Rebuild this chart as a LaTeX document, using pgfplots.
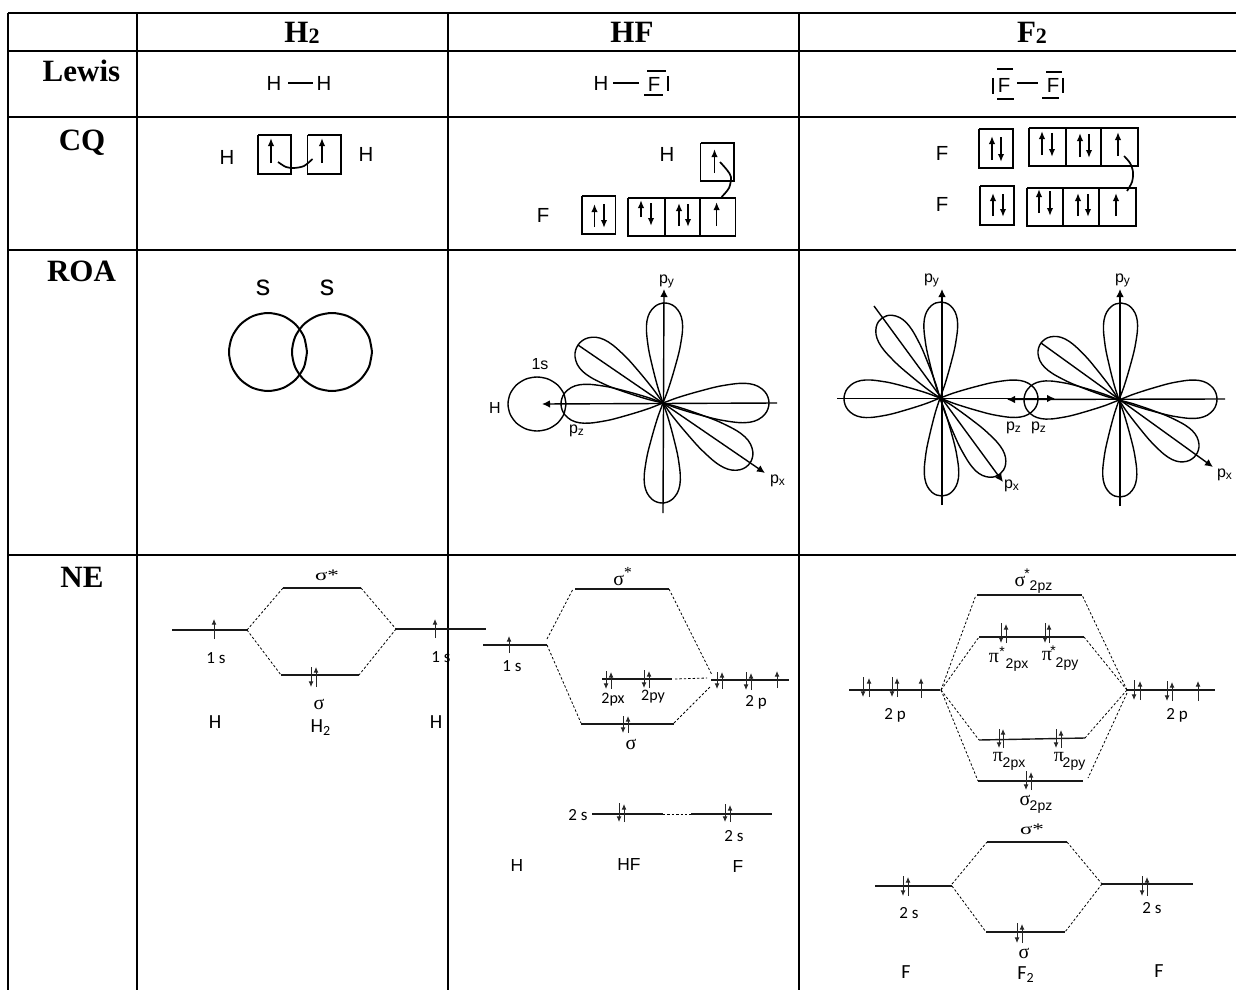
\documentclass[border=0pt]{standalone}
\usepackage{graphicx}
\usepackage{fontspec}
\usepackage{pgfplots}
\usepackage{pgfplotstable}
\pgfplotsset{compat=1.18}
\usetikzlibrary{arrows.meta}
\setmainfont{Liberation Serif}
\newfontfamily\arf{Liberation Sans}
\newfontfamily\caf{Carlito}
\pgfplotstableread{
u v
0 0
0.05 0.10
0.13 0.26
0.25 0.46
0.37 0.64
0.50 0.82
0.60 0.92
0.72 1.00
0.82 0.98
0.90 0.84
0.96 0.58
0.99 0.30
1.00 0
0.99 -0.30
0.96 -0.58
0.90 -0.84
0.82 -0.98
0.72 -1.00
0.60 -0.92
0.50 -0.82
0.37 -0.64
0.25 -0.46
0.13 -0.26
0.05 -0.10
0 0
}\lobetab
\pgfplotstableread{
c s
1 0
0.924 0.383
0.707 0.707
0.383 0.924
0 1
-0.383 0.924
-0.707 0.707
-0.924 0.383
-1 0
-0.924 -0.383
-0.707 -0.707
-0.383 -0.924
0 -1
0.383 -0.924
0.707 -0.707
0.924 -0.383
1 0
}\ringtab
\tikzset{
  tbl/.style={draw=black,line width=1pt},
  lev/.style={draw=black!90,line width=0.7pt},
  dsh/.style={draw=black,line width=0.4pt,dash pattern=on 1.2pt off 1pt},
  tinyarr/.style={draw=black!85,line width=0.42pt,-{Latex[length=2.8pt,width=2.4pt]}},
  bx/.style={draw=black,line width=0.85pt},
  carr/.style={draw=black,line width=0.8pt,-{Latex[length=4pt,width=3.2pt]}},
  orb/.style={draw=black,line width=0.7pt},
  oarr/.style={draw=black,line width=0.7pt,-{Latex[length=4pt,width=3.8pt]}},
  lt/.style={inner sep=0pt,font=\fontsize{10.2pt}{11pt}\arf},
  ls/.style={inner sep=0pt,font=\fontsize{8pt}{9pt}\arf},
  ct/.style={inner sep=0pt,font=\fontsize{8.5pt}{10pt}\caf},
  cH/.style={inner sep=0pt,font=\fontsize{10pt}{12pt}\caf},
  an/.style={inner sep=0pt,font=\fontsize{8.7pt}{10pt}\arf},
  sg/.style={inner sep=0pt,font=\fontsize{11pt}{12pt}},
  sb/.style={inner sep=0pt,font=\fontsize{7pt}{9pt}\arf},
  sc/.style={inner sep=0pt,font=\fontsize{8pt}{9pt}\caf},
  ht/.style={inner sep=0pt,anchor=base,font=\fontsize{15.5pt}{17pt}\bfseries},
}
\newcommand{\Seg}[5]{\addplot[#1] coordinates {(#2,#3) (#4,#5)};}
\newcommand{\Up}[3]{\addplot[tinyarr] coordinates {(#1,#2) (#1,#3)};}
\newcommand{\Car}[3]{\addplot[carr] coordinates {(#1,#2) (#1,#3)};}
\newcommand{\Bx}[4]{\addplot[bx] coordinates {(#1,#3) (#2,#3) (#2,#4) (#1,#4) (#1,#3)};}
\newcommand{\Lobe}[5]{\addplot[orb,smooth,tension=0.6] table[x expr={#1+(#3-#1)*\thisrow{u}-(#4-#2)*#5*\thisrow{v}},y expr={#2+(#4-#2)*\thisrow{u}+(#3-#1)*#5*\thisrow{v}}] {\lobetab};}
\newcommand{\Ring}[5][orb]{\addplot[#1,smooth] table[x expr={#2+#4*\thisrow{c}},y expr={#3+#5*\thisrow{s}}] {\ringtab};}
\newcommand{\hsub}{\fontsize{11pt}{11pt}\selectfont\raisebox{-0.5pt}{2}}
\begin{document}
\begin{tikzpicture}
\begin{axis}[
  scale only axis,width=618pt,height=495pt,
  xmin=0,xmax=1236,ymin=0,ymax=990,y dir=reverse,
  axis lines=none,clip=true]
\addplot[draw=none] coordinates {(0,0) (1236,990)};
% table
\Seg{tbl}{8}{13}{1236}{13}
\Seg{tbl}{8}{51}{1236}{51}
\Seg{tbl}{8}{117.5}{1236}{117.5}
\Seg{tbl}{8}{249.5}{1236}{249.5}
\Seg{tbl}{8}{555}{1236}{555}
\Seg{tbl}{8.3}{13}{8.3}{990}
\Seg{tbl}{137}{13}{137}{990}
\Seg{tbl}{448}{13}{448}{990}
\Seg{tbl}{799}{13}{799}{990}
\node[ht] at (axis cs:302,43) {H{\hsub}};
\node[ht] at (axis cs:632,43) {HF};
\node[ht] at (axis cs:1032,43) {F{\hsub}};
\node[ht] at (axis cs:81.5,82) {Lewis};
\node[ht] at (axis cs:82,150) {CQ};
\node[ht] at (axis cs:81.5,281) {ROA};
\node[ht] at (axis cs:82,587) {NE};
% Lewis
\node[lt] at (axis cs:274,83) {H};
\Seg{orb}{288}{83}{313}{83}
\node[lt] at (axis cs:324,83) {H};
\node[lt] at (axis cs:601,83) {H};
\Seg{orb}{613}{83}{639}{83}
\node[lt] at (axis cs:654,84) {F};
\Seg{orb}{647}{71}{666}{71}
\Seg{orb}{644}{95}{663}{95}
\Seg{orb}{668}{76}{668}{91}
\Seg{orb}{993}{78}{993}{94}
\node[lt] at (axis cs:1004,85) {F};
\Seg{orb}{997}{69}{1013}{69}
\Seg{orb}{997}{99}{1014}{99}
\Seg{orb}{1017}{83}{1038}{83}
\node[lt] at (axis cs:1053,85) {F};
\Seg{orb}{1046}{72}{1062}{72}
\Seg{orb}{1042}{98}{1059}{98}
\Seg{orb}{1063}{78}{1063}{93}
% CQ H2
\node[lt] at (axis cs:227,157) {H};
\node[lt] at (axis cs:366,154) {H};
\Bx{258}{291}{135}{174}
\Bx{307.5}{341}{135}{174}
\Car{271}{163}{138}
\Car{322}{163}{138}
\addplot[bx,smooth] coordinates {(278,162) (286,167) (294,168) (304,166) (312.5,159)};
% CQ HF
\node[lt] at (axis cs:667,154) {H};
\Bx{700.6}{734}{143}{181}
\Car{714.5}{173}{149}
\addplot[bx,smooth] coordinates {(720,162) (727,170) (731,177) (729,188) (721.6,197)};
\node[lt] at (axis cs:543,215) {F};
\Bx{582}{615.6}{196}{234}
\Car{594.5}{227}{204}
\Car{604}{204}{228}
\Bx{628}{735.5}{198}{236}
\Seg{bx}{665}{198}{665}{236}
\Seg{bx}{700}{198}{700}{236}
\Car{641}{217}{200}
\Car{651}{203}{226}
\Car{679}{226}{203}
\Car{688}{204}{227}
\Car{716.6}{226}{202}
% CQ F2
\node[lt] at (axis cs:942,153) {F};
\node[lt] at (axis cs:942,204) {F};
\Bx{979}{1013}{129}{168}
\Car{992}{160}{136}
\Car{1001}{137}{162}
\Bx{1029}{1138}{128}{166}
\Seg{bx}{1066}{128}{1066}{166}
\Seg{bx}{1101}{128}{1101}{166}
\Car{1042}{155}{131}
\Car{1052}{133}{157}
\Car{1080}{157}{133}
\Car{1089}{134}{158}
\Car{1118}{156}{132}
\addplot[bx,smooth] coordinates {(1124,156) (1130,163) (1133,172) (1132,182) (1127,191)};
\Bx{980}{1014}{186}{225}
\Car{993}{216}{193}
\Car{1003}{194}{217}
\Bx{1027}{1136}{188}{226}
\Seg{bx}{1063}{188}{1063}{226}
\Seg{bx}{1099}{188}{1099}{226}
\Car{1039}{213}{189}
\Car{1050}{191}{216}
\Car{1078}{216}{193}
\Car{1088}{194}{217}
\Car{1116}{216}{193}
% ROA H2
\node[inner sep=0pt,font=\fontsize{14.5pt}{16pt}\arf] at (axis cs:263,288) {s};
\node[inner sep=0pt,font=\fontsize{14.5pt}{16pt}\arf] at (axis cs:327,288) {s};
\Ring[orb,line width=1pt]{268}{352}{39}{39}
\Ring[orb,line width=1pt]{332}{352}{40}{39}
% ROA HF
\Seg{oarr}{663}{513}{664}{289}
\Seg{oarr}{777}{403}{542}{404}
\Seg{oarr}{578}{345}{765}{473}
\Lobe{663}{403}{665}{303}{0.18}
\Lobe{663}{403}{662}{503}{0.18}
\Lobe{663}{403}{769}{403}{0.185}
\Lobe{663}{403}{561}{404}{0.19}
\Lobe{663}{403}{578}{345}{0.19}
\Lobe{663}{403}{750}{463}{0.18}
\Ring{537}{404}{29}{27}
\node[ls] at (axis cs:667,281) {p\textsubscript{y}};
\node[ls] at (axis cs:540,364) {1s};
\node[ls] at (axis cs:495,408) {H};
\node[ls] at (axis cs:577,431) {p\textsubscript{z}};
\node[ls] at (axis cs:778,481) {p\textsubscript{x}};
% ROA F2 left
\Seg{oarr}{942}{505}{942}{289}
\Seg{oarr}{837}{398.5}{1055}{398.5}
\Seg{oarr}{874}{306}{1003}{482}
\Lobe{940}{398}{941}{302}{0.175}
\Lobe{940}{398}{942}{496}{0.175}
\Lobe{940}{398}{844}{399}{0.195}
\Lobe{940}{398}{1038}{399}{0.19}
\Lobe{940}{398}{882}{318}{0.175}
\Lobe{940}{398}{1000}{474}{0.18}
\node[ls] at (axis cs:932,280) {p\textsubscript{y}};
\node[ls] at (axis cs:1012,486) {p\textsubscript{x}};
\node[ls] at (axis cs:1014,428) {p\textsubscript{z}};
\node[ls] at (axis cs:1039,428) {p\textsubscript{z}};
% ROA F2 right
\Seg{oarr}{1120}{506}{1120}{289}
\Seg{oarr}{1225}{399}{1007}{399.5}
\Seg{oarr}{1041}{343}{1213}{467}
\Lobe{1119}{400}{1121}{303}{0.175}
\Lobe{1119}{400}{1120}{497}{0.175}
\Lobe{1119}{400}{1217}{399}{0.195}
\Lobe{1119}{400}{1024}{400}{0.2}
\Lobe{1119}{400}{1041}{343}{0.185}
\Lobe{1119}{400}{1196}{455}{0.19}
\node[ls] at (axis cs:1123,280) {p\textsubscript{y}};
\node[ls] at (axis cs:1225,475) {p\textsubscript{x}};
% NE H2
\Seg{lev}{172}{630}{247}{630}
\Seg{lev}{283}{588}{361}{588}
\Seg{lev}{396}{629}{486}{629}
\Seg{lev}{281}{675}{359}{675}
\Seg{dsh}{247}{630}{283}{588}
\Seg{dsh}{361}{588}{396}{629}
\Seg{dsh}{247}{630}{281}{675}
\Seg{dsh}{396}{629}{359}{675}
\Up{214}{639}{619}
\Up{435}{638}{619}
\Up{316}{687}{667}
\Up{311}{667}{687}
\node[ct] at (axis cs:216,658) {1 s};
\node[ct] at (axis cs:441,657) {1 s};
\node[sg] at (axis cs:327,575) {\scalebox{1.15}[0.8]{σ*}};
\node[sg] at (axis cs:319,704) {σ};
\node[cH] at (axis cs:215,722) {H};
\node[cH] at (axis cs:436,722) {H};
\node[cH] at (axis cs:321,728) {H\textsubscript{2}};
% NE HF
\Seg{lev}{483}{645}{547}{645}
\Seg{lev}{575}{589}{669}{589}
\Seg{lev}{581}{724}{674}{724}
\Seg{lev}{602}{679}{672}{679}
\Seg{lev}{711}{680}{789}{680}
\Seg{lev}{592}{814}{663}{814}
\Seg{lev}{691}{814}{772}{814}
\Seg{dsh}{547}{639}{573}{589}
\Seg{dsh}{669}{589}{712}{675}
\Seg{dsh}{547}{645}{581}{723}
\Seg{dsh}{674}{723}{710}{687}
\Seg{dsh}{675}{679}{707}{678}
\Seg{dsh}{663}{814}{691}{814}
\Up{509}{653}{636}
\Up{623}{716}{733}
\Up{628}{733}{716}
\Up{606}{671}{689}
\Up{611}{689}{672}
\Up{644}{670}{688}
\Up{649}{688}{671}
\Up{717}{672}{689}
\Up{722}{689}{672}
\Up{746}{672}{690}
\Up{751}{690}{673}
\Up{777}{688}{671}
\Up{619}{803}{822}
\Up{624}{822}{804}
\Up{725}{804}{822}
\Up{730}{822}{805}
\node[ct] at (axis cs:512,666) {1 s};
\node[sg] at (axis cs:623,577) {σ\textsuperscript{*}};
\node[sg] at (axis cs:631,744) {σ};
\node[sc] at (axis cs:613,700) {2px};
\node[sc] at (axis cs:653,697) {2py};
\node[ct] at (axis cs:756,702) {2 p};
\node[ct] at (axis cs:578,815) {2 s};
\node[ct] at (axis cs:734,836) {2 s};
\node[an] at (axis cs:517,866) {H};
\node[an] at (axis cs:629,865) {HF};
\node[an] at (axis cs:738,867) {F};
% NE F2 2p
\Seg{lev}{977}{595}{1082}{595}
\Seg{lev}{979}{637}{1084}{637}
\Seg{lev}{849}{690}{940}{690}
\Seg{lev}{1127}{690}{1215}{690}
\Seg{lev}{979}{740}{1085}{738}
\Seg{lev}{978}{781}{1083}{781}
\Seg{dsh}{941}{690}{976}{595}
\Seg{dsh}{941}{690}{979}{637}
\Seg{dsh}{941}{690}{979}{740}
\Seg{dsh}{941}{690}{978}{781}
\Seg{dsh}{1127}{690}{1082}{595}
\Seg{dsh}{1127}{690}{1084}{637}
\Seg{dsh}{1127}{690}{1085}{738}
\Seg{dsh}{1127}{693}{1088}{778}
\Up{1001}{623}{643}
\Up{1006}{643}{624}
\Up{1045}{623}{643}
\Up{1049}{643}{624}
\Up{863}{677}{697}
\Up{869}{697}{678}
\Up{892}{677}{697}
\Up{897}{697}{678}
\Up{921}{698}{678}
\Up{1134}{680}{700}
\Up{1140}{700}{681}
\Up{1167}{681}{701}
\Up{1172}{701}{682}
\Up{1198}{701}{681}
\Up{999}{729}{748}
\Up{1003}{748}{729}
\Up{1056}{729}{748}
\Up{1061}{748}{730}
\Up{1026}{771}{790}
\Up{1031}{790}{772}
\node[sg] at (axis cs:1020,581) {σ};
\node[sb] at (axis cs:1027,574) {*};
\node[sb] at (axis cs:1041,587) {2pz};
\node[sg] at (axis cs:994,658) {π};
\node[sb] at (axis cs:1002,652) {*};
\node[sb] at (axis cs:1017,665) {2px};
\node[sg] at (axis cs:1047,656) {π};
\node[sb] at (axis cs:1053,651) {*};
\node[sb] at (axis cs:1067,664) {2py};
\node[ct] at (axis cs:895,715) {2 p};
\node[ct] at (axis cs:1177,715) {2 p};
\node[sg] at (axis cs:998,757) {π};
\node[sb] at (axis cs:1014,764) {2px};
\node[sg] at (axis cs:1059,757) {π};
\node[sb] at (axis cs:1074,764) {2py};
\node[sg] at (axis cs:1025,800) {σ};
\node[sb] at (axis cs:1041,807) {2pz};
% NE F2 2s
\Seg{lev}{987}{842}{1067}{842}
\Seg{lev}{875}{886}{952}{886}
\Seg{lev}{1102}{884}{1193}{884}
\Seg{lev}{986}{932}{1065}{932}
\Seg{dsh}{952}{884}{987}{842}
\Seg{dsh}{1067}{842}{1102}{884}
\Seg{dsh}{952}{886}{986}{932}
\Seg{dsh}{1102}{884}{1065}{932}
\Up{903}{876}{896}
\Up{908}{896}{877}
\Up{1142}{876}{896}
\Up{1147}{896}{877}
\Up{1017}{923}{943}
\Up{1022}{943}{924}
\node[ct] at (axis cs:909,913) {2 s};
\node[ct] at (axis cs:1152,908) {2 s};
\node[sg] at (axis cs:1032,829) {\scalebox{1.15}[0.8]{σ*}};
\node[sg] at (axis cs:1024,953) {σ};
\node[cH] at (axis cs:906,972) {F};
\node[cH] at (axis cs:1159,971) {F};
\node[cH] at (axis cs:1026,975) {F\textsubscript{2}};
\end{axis}
\end{tikzpicture}
\end{document}
